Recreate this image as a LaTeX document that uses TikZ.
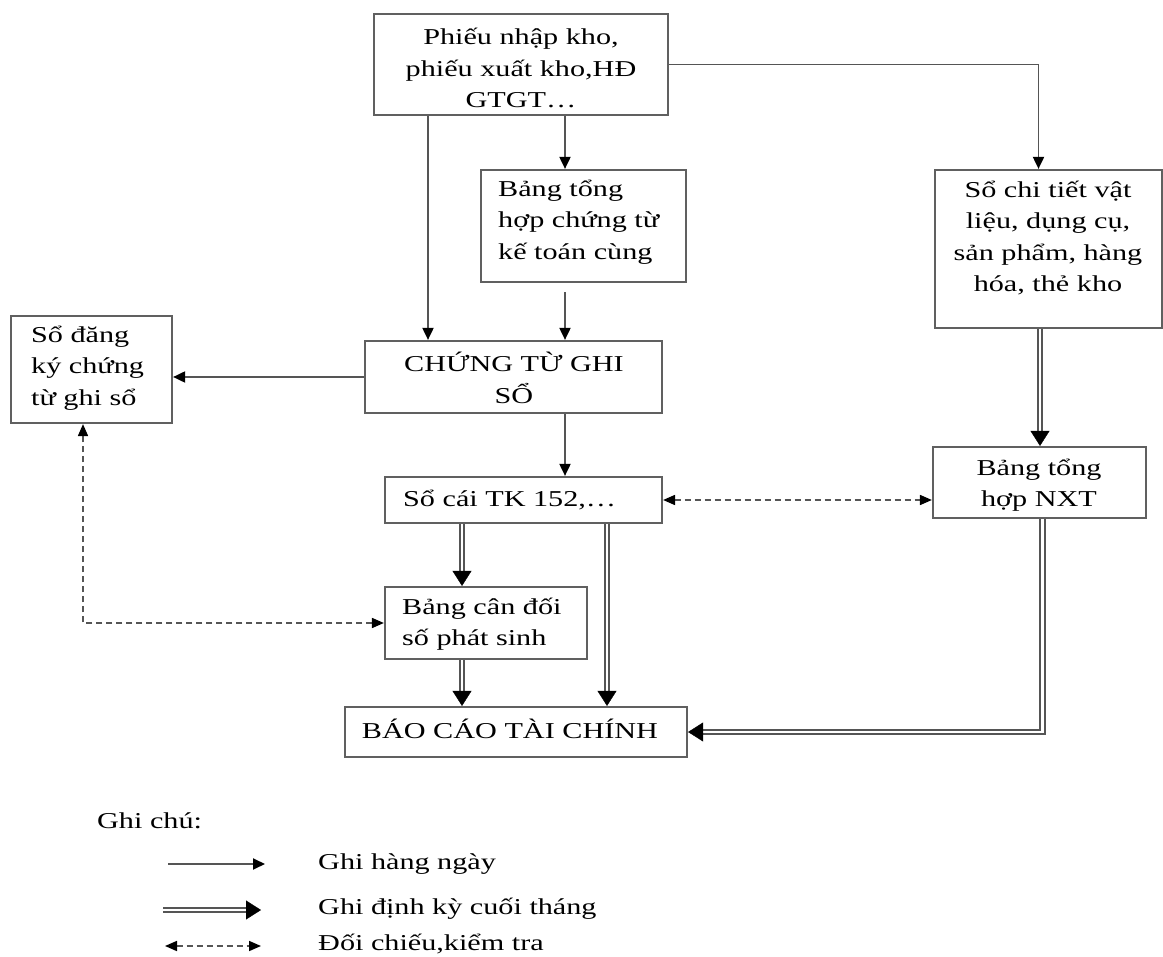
\documentclass[tikz,border=0pt]{standalone}
\usepackage{fontspec}
\setmainfont{Liberation Serif}[FakeStretch=1.33]
\usetikzlibrary{arrows.meta}
\definecolor{linegray}{HTML}{555555}
\definecolor{boxgray}{HTML}{606060}

% double-line arrow: the double stroke, then a black head at the end
\newcommand\dblarrow[1]{\draw[dblline] #1; \draw[dbltip] #1;}

\begin{document}
\begin{tikzpicture}[x=1pt,y=-1pt,
  box/.style={draw=boxgray, line width=2.2pt, inner sep=0pt},
  txt/.style={inner sep=0pt, font=\fontsize{22.7pt}{31.5pt}\selectfont},
  arr/.style={draw=linegray, line width=1.9pt,
    -{Triangle[length=12pt,width=11pt,color=black]}},
  dsh/.style={draw=linegray, line width=1.7pt, dash pattern=on 6pt off 4pt,
    {Triangle[length=12pt,width=10pt,color=black]}-{Triangle[length=12pt,width=10pt,color=black]}},
  dblline/.style={draw=linegray, line width=2.1pt, double=white,
    double distance=2.6pt, shorten >=14pt},
  dbltip/.style={draw=white, line width=0.3pt,
    -{Triangle[length=15pt,width=19pt,color=black]}}]

\useasboundingbox (0,0) rectangle (1163,957);

% boxes
\node[box, minimum width=294pt, minimum height=101pt] (src)  at (521,64.5) {};
\node[box, minimum width=205pt, minimum height=112pt] (bth)  at (583.5,226) {};
\node[box, minimum width=227pt, minimum height=158pt] (sct)  at (1048.5,249) {};
\node[box, minimum width=161pt, minimum height=107pt] (sdk)  at (91.5,369.5) {};
\node[box, minimum width=297pt, minimum height=72pt]  (ctgs) at (513.5,377) {};
\node[box, minimum width=277pt, minimum height=46pt]  (sc)   at (523.5,500) {};
\node[box, minimum width=213pt, minimum height=71pt]  (nxt)  at (1039.5,482.5) {};
\node[box, minimum width=202pt, minimum height=72pt]  (bcd)  at (486,623) {};
\node[box, minimum width=342pt, minimum height=50pt]  (bctc) at (516,732) {};

% box texts
\node[txt, align=center] (srcT) at (521,68) {Phiếu nhập kho,\\phiếu xuất kho,HĐ\\GTGT…};
\node[txt, align=left, anchor=west] (bthT) at (498,222) {Bảng tổng\\hợp chứng từ\\kế toán cùng};
\node[txt, align=center] (sctT) at (1048,238) {Sổ chi tiết vật\\liệu, dụng cụ,\\sản phẩm, hàng\\hóa, thẻ kho};
\node[txt, align=left, anchor=west] (sdkT) at (31,368) {Sổ đăng\\ký chứng\\từ ghi sổ};
\node[txt, align=center] (ctgsT) at (514,378) {CHỨNG TỪ GHI\\SỔ};
\node[txt, anchor=west] (scT) at (403,500) {Sổ cái TK 152,…};
\node[txt, align=center] (nxtT) at (1039,485) {Bảng tổng\\hợp NXT};
\node[txt, align=left, anchor=west] (bcdT) at (402,624) {Bảng cân đối\\số phát sinh};
\node[txt] (bctcT) at (510,729) {BÁO CÁO TÀI CHÍNH};

% daily entries
\draw[arr] (src.east) -| ([xshift=-10pt]sct.north);
\draw[arr] ([xshift=-93pt]src.south) -- ([xshift=-93pt]src.south |- ctgs.north);
\draw[arr] ([xshift=44pt]src.south) -- ([xshift=44pt]src.south |- bth.north);
\draw[arr, shorten <=9pt] ([xshift=-18.5pt]bth.south) -- ([xshift=-18.5pt]bth.south |- ctgs.north);
\draw[arr] (ctgs.west) -- (ctgs.west -| sdk.east);
\draw[arr] ([xshift=51.5pt]ctgs.south) -- ([xshift=51.5pt]ctgs.south |- sc.north);

% month-end entries
\dblarrow{([xshift=-61.5pt]sc.south) -- ([xshift=-61.5pt]sc.south |- bcd.north)}
\dblarrow{([xshift=83.5pt]sc.south) -- ([xshift=83.5pt]sc.south |- bctc.north)}
\dblarrow{([xshift=-24pt]bcd.south) -- ([xshift=-24pt]bcd.south |- bctc.north)}
\dblarrow{([xshift=-8.5pt]sct.south) -- ([xshift=-8.5pt]sct.south |- nxt.north)}
\dblarrow{([xshift=3pt]nxt.south) |- (bctc.east)}

% cross-checks
\draw[dsh] (sc.east) -- (sc.east -| nxt.west);
\draw[dsh] (bcd.west) -| ([xshift=-8.5pt]sdk.south);

% legend
\node[txt, anchor=base west] (gc) at (97,828) {Ghi chú:};
\coordinate (l1s) at (168,864);
\coordinate (l1e) at (265,864);
\draw[arr] (l1s) -- (l1e);
\node[txt, anchor=base west] (g1) at (318,869) {Ghi hàng ngày};
\coordinate (l2s) at (163,910);
\coordinate (l2e) at (261,910);
\dblarrow{(l2s) -- (l2e)}
\node[txt, anchor=base west] (g2) at (318,914) {Ghi định kỳ cuối tháng};
\coordinate (l3s) at (165,946);
\coordinate (l3e) at (261,946);
\draw[dsh] (l3s) -- (l3e);
\node[txt, anchor=base west] (g3) at (318,950) {Đối chiếu,kiểm tra};
\end{tikzpicture}
\end{document}
